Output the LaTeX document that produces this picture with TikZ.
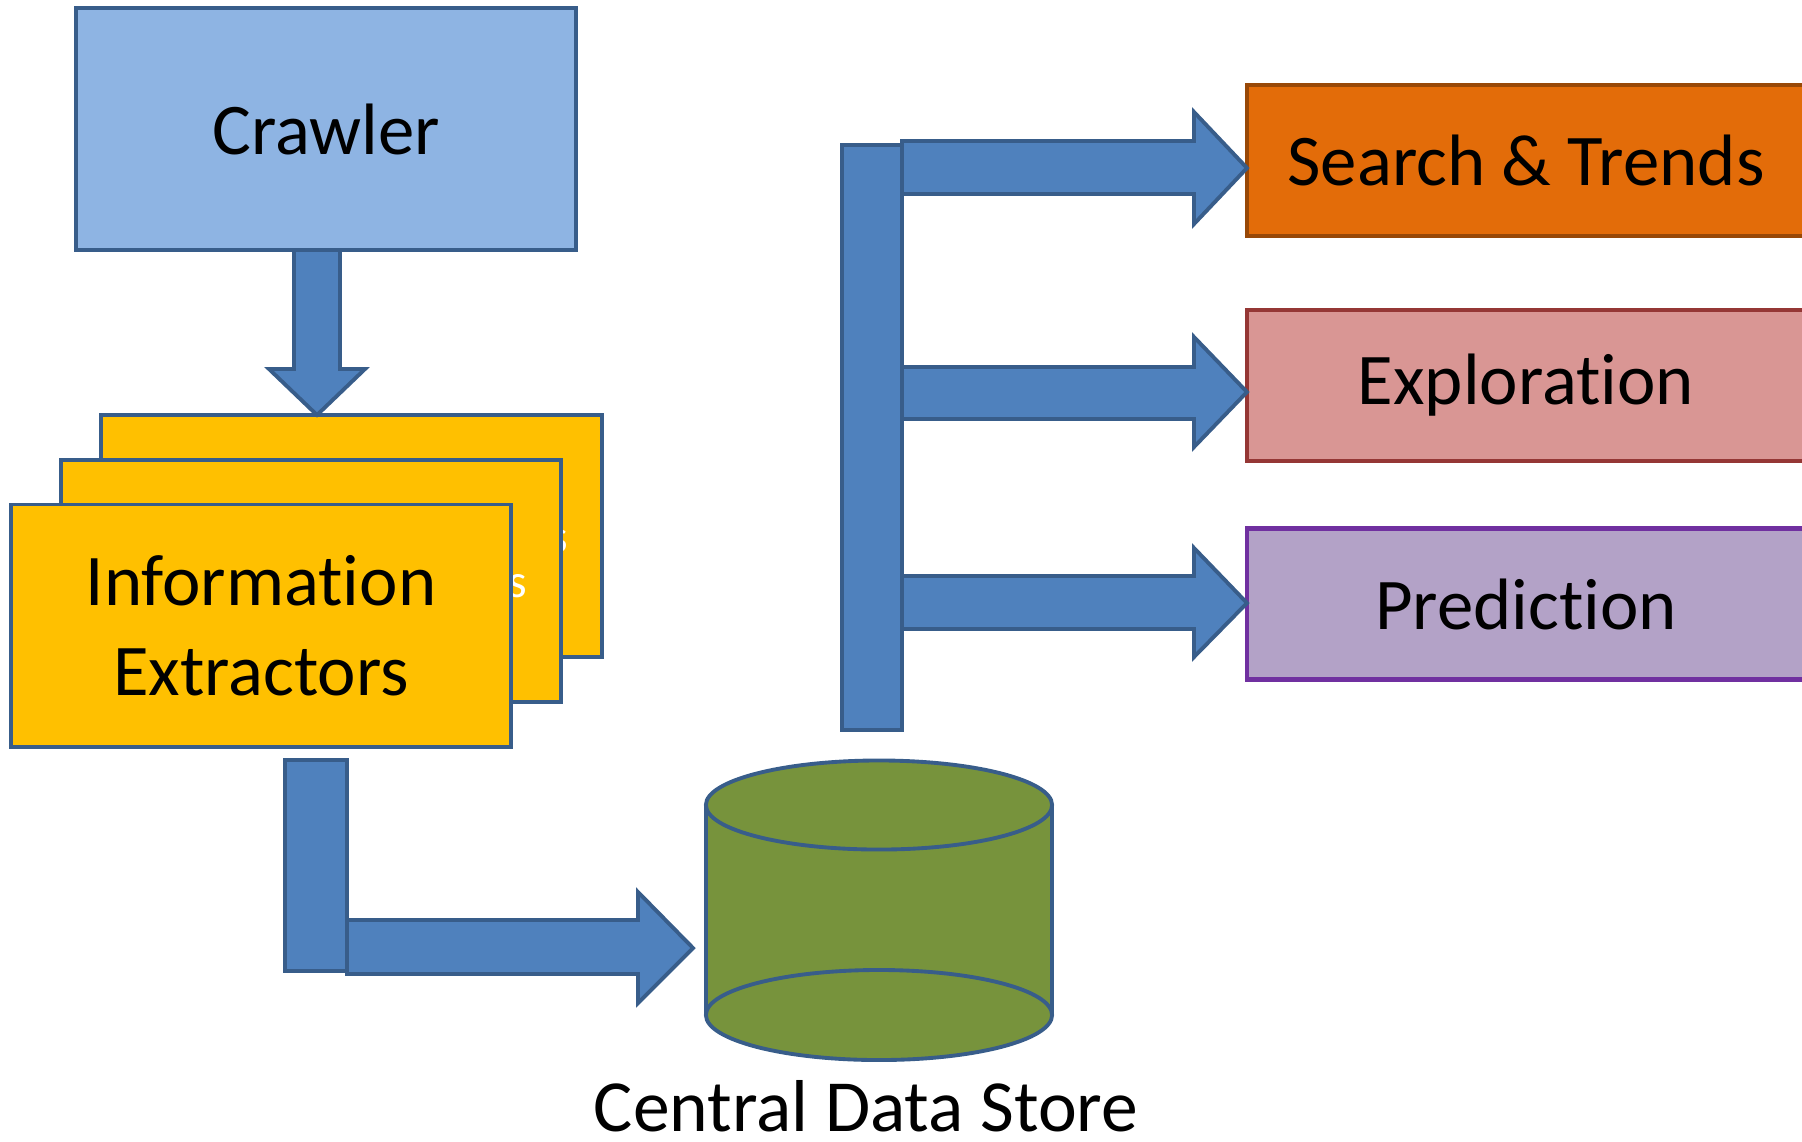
\documentclass[tikz,border=0pt]{standalone}
\usepackage{fontspec}
\setmainfont{Carlito}[Ligatures=NoCommon]
\definecolor{edgeblue}{HTML}{385D8A}
\definecolor{arrowblue}{HTML}{4F81BD}
\definecolor{crawlerblue}{HTML}{8EB4E3}
\definecolor{ieyellow}{HTML}{FFC000}
\definecolor{storegreen}{HTML}{77933C}
\definecolor{searchorange}{HTML}{E36C09}
\definecolor{searchedge}{HTML}{984807}
\definecolor{explorepink}{HTML}{D99694}
\definecolor{exploreedge}{HTML}{953735}
\definecolor{predictpurple}{HTML}{B3A2C7}
\definecolor{predictedge}{HTML}{7030A0}
\begin{document}
\begin{tikzpicture}[x=0.01cm, y=-0.01cm,
    box/.style={draw=edgeblue, line width=1.1pt, inner sep=0pt, align=center,
      minimum width=5cm, minimum height=2.42cm, font=\fontsize{20.7}{25.6}\selectfont},
    appbox/.style={line width=1.3pt, inner sep=0pt, minimum width=5.58cm,
      minimum height=1.51cm, font=\fontsize{20.7}{25.6}\selectfont},
    barrow/.style={draw=edgeblue, fill=arrowblue, line width=1.1pt}]
    \useasboundingbox (0,0) rectangle (1802,1141);
    % crawler and the stack of extractors
    \node[box, fill=crawlerblue] (crawler) at (326,129) {Crawler};
    \node[box, fill=ieyellow, text=white, font=\fontsize{13.5}{16}\selectfont] (ie1) at (351.5,536) {Information Extractors};
    \node[box, fill=ieyellow, text=white, font=\fontsize{13.5}{16}\selectfont] (ie2) at (311,581) {Information Extractors};
    \node[box, fill=ieyellow] (ie3) at (261,625.5) {Information\\Extractors};
    \draw[barrow] (294,250) -- (340,250) -- (340,369) -- (365,369) -- (317,415) -- (269,369) -- (294,369) -- cycle;
    % extractors to the store
    \draw[barrow] (285,760) rectangle (347,971);
    \draw[barrow] (347,920) -- (638,920) -- (638,892) -- (693,948) -- (638,1003) -- (638,974) -- (347,974) -- cycle;
    % central data store
    \fill[storegreen] (706,805) rectangle (1052,1015);
    \draw[edgeblue, line width=1.1pt] (706,805) -- (706,1015);
    \draw[edgeblue, line width=1.1pt] (1052,805) -- (1052,1015);
    \draw[edgeblue, fill=storegreen, line width=1.1pt] (879,1015) ellipse [x radius=1.73cm, y radius=0.45cm];
    \draw[edgeblue, fill=storegreen, line width=1.1pt] (879,805) ellipse [x radius=1.73cm, y radius=0.445cm];
    \node[anchor=base, font=\fontsize{20.9}{25.6}\selectfont] (store) at (866,1131) {Central Data Store};
    % store to the applications
    \draw[barrow] (842,145) rectangle (902,730);
    \node[appbox, draw=searchedge, fill=searchorange] (search) at (1526,160.5) {Search \& Trends};
    \node[appbox, draw=exploreedge, fill=explorepink] (explore) at (1526,385.5) {Exploration};
    \node[appbox, draw=predictedge, fill=predictpurple] (predict) at (1526,604) {Prediction};
    \draw[barrow] (902,141) -- (1194,141) -- (1194,112) -- (1247,168) -- (1194,224) -- (1194,194) -- (902,194) -- cycle;
    \draw[barrow] (902,367) -- (1194,367) -- (1194,337) -- (1247,392) -- (1194,447) -- (1194,419) -- (902,419) -- cycle;
    \draw[barrow] (902,576) -- (1194,576) -- (1194,548) -- (1247,603) -- (1194,657) -- (1194,629) -- (902,629) -- cycle;
  \end{tikzpicture}
\end{document}
